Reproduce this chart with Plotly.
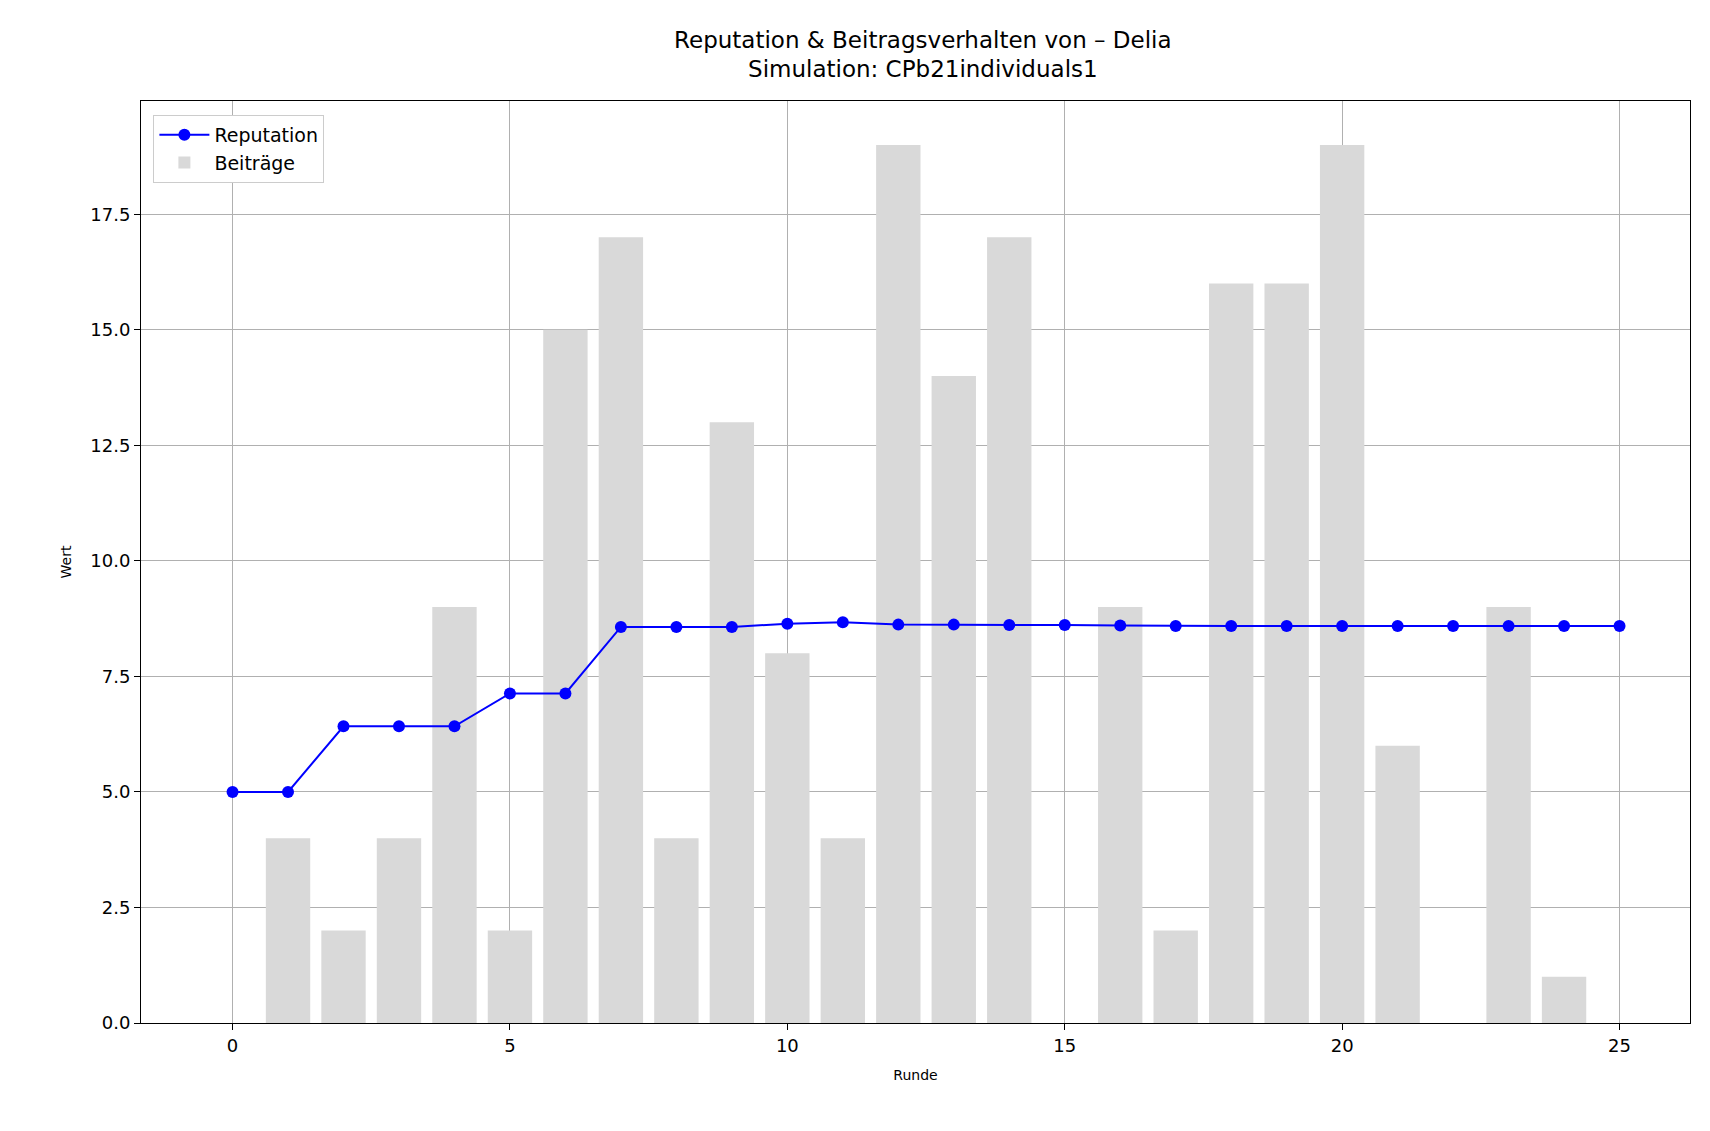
import plotly.graph_objects as go

runden = list(range(26))
reputation = [5.0, 5.0, 6.42, 6.42, 6.42, 7.13, 7.13, 8.57, 8.57, 8.57, 8.64, 8.67, 8.62,
              8.62, 8.61, 8.61, 8.60, 8.59, 8.59, 8.59, 8.59, 8.59, 8.59, 8.59, 8.59, 8.59]
beitraege = [0, 4, 2, 4, 9, 2, 15, 17, 4, 13, 8, 4, 19, 14, 17, 0, 9, 2, 16, 16, 19, 6, 0, 9, 1, 0]

fig = go.Figure()
fig.add_trace(go.Bar(x=runden, y=beitraege, name='Beiträge', width=0.8,
                     marker=dict(color='#d9d9d9', line=dict(width=0))))
fig.add_trace(go.Scatter(x=runden, y=reputation, mode='lines+markers', name='Reputation',
                         line=dict(color='blue', width=2), marker=dict(color='blue', size=12)))

axis = dict(showline=True, linecolor='black', mirror=True, showgrid=True, gridcolor='#b0b0b0',
            ticks='outside', tickcolor='black', ticklen=6, zeroline=False,
            tickfont=dict(size=18, color='black'), title_font=dict(size=19, color='black'))

fig.update_layout(
    title=dict(text='Reputation & Beitragsverhalten von – Delia<br>Simulation: CPb21individuals1',
               x=0.535, xanchor='center', y=0.965, font=dict(size=23, color='black')),
    font=dict(family='DejaVu Sans', color='black'),
    plot_bgcolor='white', paper_bgcolor='white',
    width=1710, height=1131,
    margin=dict(l=133, r=28, t=93, b=116),
    xaxis=dict(axis, range=[-1.65, 26.27], tickvals=[0, 5, 10, 15, 20, 25], title='Runde'),
    yaxis=dict(axis, range=[0, 19.95], tickvals=[0, 2.5, 5, 7.5, 10, 12.5, 15, 17.5],
               ticktext=['0.0', '2.5', '5.0', '7.5', '10.0', '12.5', '15.0', '17.5'], title='Wert'),
    legend=dict(x=0.008, y=0.985, xanchor='left', yanchor='top', bordercolor='#cccccc', borderwidth=1,
                bgcolor='white', font=dict(size=19), traceorder='reversed', itemwidth=50),
    showlegend=True,
)

fig.write_html('out.html')
